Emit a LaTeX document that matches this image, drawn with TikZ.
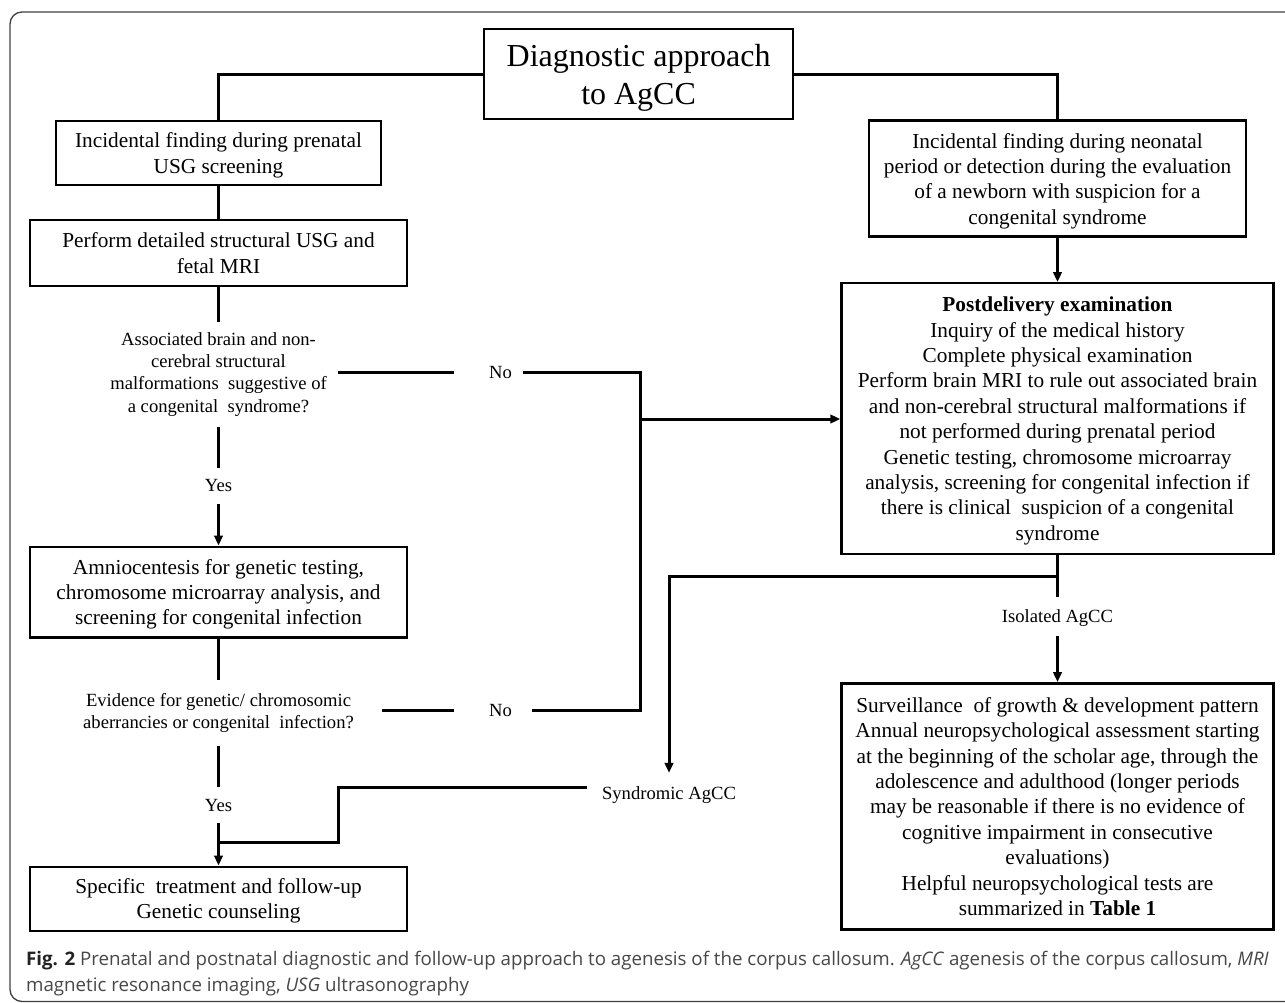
\documentclass[tikz,border=0pt]{standalone}
\usepackage{fontspec}
\setmainfont{Liberation Serif}
\newfontfamily\capfont{Open Sans}
\usetikzlibrary{arrows.meta,calc}
\definecolor{capgray}{HTML}{474747}
\definecolor{capdark}{HTML}{222222}
\begin{document}
\begin{tikzpicture}[x=1pt,y=-1pt,
  conn/.style={line width=3pt},
  arr/.style={conn,-{Triangle[length=10pt,width=8.5pt]}},
  boxnode/.style={draw,line width=2.4pt,inner sep=0pt,align=center,text depth=0pt,
     font=\fontsize{21.3}{25.4}\selectfont},
  qnode/.style={inner xsep=0pt,align=center,text depth=0pt,font=\fontsize{18.6}{22.3}\selectfont},
  lbl/.style={inner xsep=0pt,inner ysep=0pt,text depth=0pt,font=\fontsize{18.6}{22.3}\selectfont},
]
\useasboundingbox (0,0) rectangle (1285,1003);
\draw[line width=1.3pt, black!75, rounded corners=12pt] (10,12) rectangle (1320,1001.5);

% nodes
\node[boxnode, minimum width=309pt, minimum height=90pt, font=\fontsize{32}{38}\selectfont] (title) at (638.6,74.3) {Diagnostic approach\\to AgCC};
\node[boxnode, minimum width=325pt, minimum height=64.3pt] (l1) at (218.5,152.9) {Incidental finding during prenatal\\USG screening};
\node[boxnode, minimum width=376.5pt, minimum height=65.7pt] (l2) at (218.5,252.9) {Perform detailed structural USG and\\fetal MRI};
\node[qnode, inner ysep=10pt] (q1) at (218.5,372.2) {Associated brain and non-\\cerebral structural\\malformations\ \ suggestive of\\a congenital\ \ syndrome?};
\node[lbl, inner ysep=11.5pt] (yes1) at (218.5,485.8) {Yes};
\node[boxnode, minimum width=376.5pt, minimum height=90.6pt] (l3) at (218.5,592) {Amniocentesis for genetic testing,\\chromosome microarray analysis, and\\screening for congenital infection};
\node[qnode, inner ysep=13pt] (q2) at (218.5,710.7) {Evidence for genetic/ chromosomic\\aberrancies or congenital\ \ infection?};
\node[lbl, inner ysep=11.5pt] (yes2) at (218.5,805) {Yes};
\node[boxnode, minimum width=376.5pt, minimum height=64pt] (l4) at (218.5,898.7) {Specific\ \ treatment and follow-up\\Genetic counseling};
\node[lbl] (no1) at (500.6,372.5) {No};
\node[lbl] (no2) at (500.6,710.5) {No};
\node[boxnode, minimum width=376.5pt, minimum height=116pt] (r1) at (1057.5,178.7) {Incidental finding during neonatal\\period or detection during the evaluation\\of a newborn with suspicion for a\\congenital syndrome};
\node[boxnode, minimum width=432pt, minimum height=270.7pt] (r2) at (1057.5,418.6) {\textbf{Postdelivery examination}\\Inquiry of the medical history\\Complete physical examination\\Perform brain MRI to rule out associated brain\\and non-cerebral structural malformations if\\not performed during prenatal period\\Genetic testing, chromosome microarray\\analysis, screening for congenital infection if\\there is clinical\ \ suspicion of a congenital\\syndrome};
\node[lbl, inner ysep=12.5pt] (iso) at (1057.5,616.5) {Isolated AgCC};
\node[lbl, inner xsep=16pt, inner ysep=14pt] (synd) at (669,793.5) {Syndromic AgCC};
\node[boxnode, minimum width=432pt, minimum height=246pt] (r3) at (1057.5,806.3) {Surveillance\ \ of growth \& development pattern\\Annual neuropsychological assessment starting\\at the beginning of the scholar age, through the\\adolescence and adulthood (longer periods\\may be reasonable if there is no evidence of\\cognitive impairment in consecutive\\evaluations)\\Helpful neuropsychological tests are\\summarized in \textbf{Table 1}};

% caption
\node[anchor=north west, inner sep=0pt, align=left, text=capgray,
      font=\capfont\fontsize{18.7}{26}\selectfont] (cap) at (26,951)
  {\textcolor{capdark}{\textbf{Fig. 2}} Prenatal and postnatal diagnostic and follow-up approach to agenesis of the corpus callosum. \textit{AgCC} agenesis of the corpus callosum, \textit{MRI}\\magnetic resonance imaging, \textit{USG} ultrasonography};

% coordinates
\coordinate (n1a) at (338,372.5);
\coordinate (n1b) at (454,372.5);
\coordinate (n1c) at (523,372.5);
\coordinate (c1) at (640.5,372.5);
\coordinate (j1) at (640.5,419);
\coordinate (c2) at (640.5,710.5);
\coordinate (n2c) at (531.5,710.5);
\coordinate (n2b) at (454,710.5);
\coordinate (n2a) at (382,710.5);
\coordinate (b1) at (1057.5,576);
\coordinate (s1) at (587,787);
\coordinate (s2) at (338,787);
\coordinate (s3) at (338,842);
\coordinate (s4) at (218.5,842);

% connectors
\draw[conn] (title.west) -| (l1.north);
\draw[conn] (title.east) -| (r1.north);
\draw[conn] (l1) -- (l2);
\draw[conn] (l2) -- (q1);
\draw[conn, shorten <=5pt] (q1) -- (yes1);
\draw[arr] (yes1) -- (l3);
\draw[conn] (l3) -- (q2);
\draw[conn, shorten <=4pt] (q2) -- (yes2);
\draw[arr] (yes2) -- (l4);
\draw[conn] (n1a) -- (n1b);
\draw[conn] (n1c) -- (c1) -- (c2) -- (n2c);
\draw[conn] (n2b) -- (n2a);
\draw[arr] (j1) -- (r2.west |- j1);
\draw[arr] (r1) -- (r2);
\draw[conn] (r2) -- (iso);
\draw[arr] (iso) -- (r3);
\draw[arr] (b1) -| (synd.north);
\draw[conn] (s1) -- (s2) -- (s3) -- (s4);
\end{tikzpicture}
\end{document}
